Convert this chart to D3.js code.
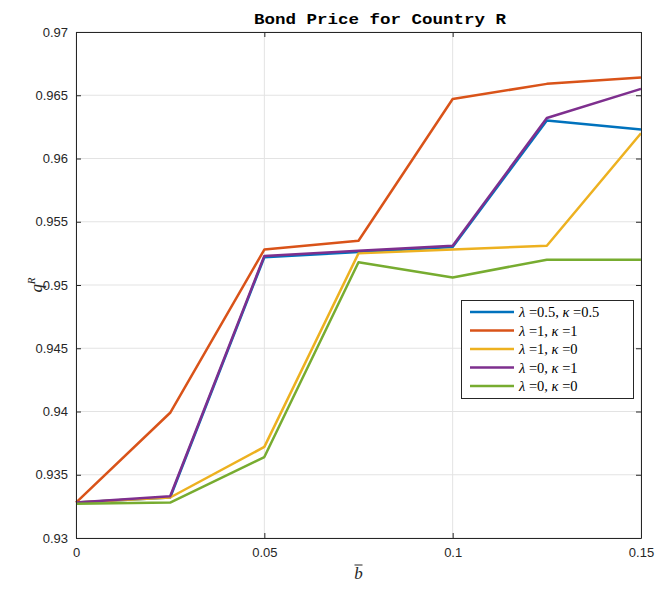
<!DOCTYPE html>
<html><head><meta charset="utf-8">
<script src="https://cdn.jsdelivr.net/npm/d3@7"></script>
<style>body{margin:0;background:#fff;} svg{display:block;}</style>
</head><body>
<svg id="c" width="663" height="592"></svg>
<script>
const xValues = [0, 0.025, 0.05, 0.075, 0.1, 0.125, 0.15];
const seriesNames = ["λ=0.5, κ=0.5", "λ=1, κ=1", "λ=1, κ=0", "λ=0, κ=1", "λ=0, κ=0"];
const legendParts = [["0.5","0.5"],["1","1"],["1","0"],["0","1"],["0","0"]];
const blue   = [0.9328, 0.9332, 0.9522, 0.9526, 0.9530, 0.9630, 0.9623];
const orange = [0.9328, 0.9399, 0.9528, 0.9535, 0.9647, 0.9659, 0.9664];
const yellow = [0.9328, 0.9332, 0.9372, 0.9525, 0.9528, 0.9531, 0.9620];
const purple = [0.9328, 0.9333, 0.9523, 0.9527, 0.9531, 0.9632, 0.9655];
const green  = [0.9327, 0.9328, 0.9364, 0.9518, 0.9506, 0.9520, 0.9520];
const colors = ["#0072BD", "#D95319", "#EDB120", "#7E2F8E", "#77AC30"];
const xTicks = [0, 0.05, 0.1, 0.15];
const xTickLabels = ["0", "0.05", "0.1", "0.15"];
const yTicks = [0.93, 0.935, 0.94, 0.945, 0.95, 0.955, 0.96, 0.965, 0.97];
const yTickLabels = ["0.93", "0.935", "0.94", "0.945", "0.95", "0.955", "0.96", "0.965", "0.97"];
const series = [blue, orange, yellow, purple, green];

const svg = d3.select("#c");
const L = 76, R = 641, T = 32, B = 538;
const x = d3.scaleLinear().domain([0, 0.15]).range([L, R]);
const y = d3.scaleLinear().domain([0.93, 0.97]).range([B, T]);

// grid
const g = svg.append("g");
g.selectAll(".gx").data(xTicks).enter().append("line")
  .attr("x1", d => x(d)).attr("x2", d => x(d)).attr("y1", T).attr("y2", B)
  .attr("stroke", "#e3e3e3").attr("stroke-width", 1);
g.selectAll(".gy").data(yTicks).enter().append("line")
  .attr("y1", d => y(d)).attr("y2", d => y(d)).attr("x1", L).attr("x2", R)
  .attr("stroke", "#e3e3e3").attr("stroke-width", 1);

// lines
const line = d3.line().x((d, i) => x(xValues[i])).y(d => y(d));
series.forEach((s, i) => {
  svg.append("path").datum(s).attr("d", line).attr("fill", "none")
    .attr("stroke", colors[i]).attr("stroke-width", 2.5).attr("stroke-linejoin", "round");
});

// axes
const fontTick = "'Liberation Sans', Arial, sans-serif";
const xAxisB = d3.axisBottom(x).tickValues(xTicks).tickFormat((d, i) => xTickLabels[i]).tickSizeInner(-5).tickSizeOuter(0).tickPadding(10);
const xAxisT = d3.axisTop(x).tickValues(xTicks).tickFormat("").tickSizeInner(-5).tickSizeOuter(0);
const yAxisL = d3.axisLeft(y).tickValues(yTicks).tickFormat((d, i) => yTickLabels[i]).tickSizeInner(-5).tickSizeOuter(0).tickPadding(8);
const yAxisR = d3.axisRight(y).tickValues(yTicks).tickFormat("").tickSizeInner(-5).tickSizeOuter(0);
function style(sel) {
  sel.selectAll("path").attr("stroke", "#262626").attr("stroke-width", 1);
  sel.selectAll("line").attr("stroke", "#262626");
  sel.selectAll("text").attr("fill", "#262626").style("font-family", fontTick).style("font-size", "13px");
}
svg.append("g").attr("transform", `translate(0,${B})`).call(xAxisB).call(style);
svg.append("g").attr("transform", `translate(0,${T})`).call(xAxisT).call(style);
svg.append("g").attr("transform", `translate(${L},0)`).call(yAxisL).call(style);
svg.append("g").attr("transform", `translate(${R},0)`).call(yAxisR).call(style);

// title
svg.append("text").attr("x", 254).attr("y", 24)
  .attr("textLength", 252).attr("lengthAdjust", "spacingAndGlyphs")
  .style("font-family", "'Liberation Mono', 'DejaVu Sans Mono', monospace").style("font-weight", "bold")
  .style("font-size", "15.5px").attr("fill", "#000").text("Bond Price for Country R");

// axis labels
const serif = "'Liberation Serif', 'DejaVu Serif', serif";
svg.append("text").attr("x", (L + R) / 2).attr("y", 579).attr("text-anchor", "middle")
  .style("font-family", serif).style("font-style", "italic").style("font-size", "17px").attr("fill", "#262626").text("b");
svg.append("line").attr("x1", (L + R) / 2 - 4).attr("x2", (L + R) / 2 + 4).attr("y1", 565).attr("y2", 565)
  .attr("stroke", "#262626").attr("stroke-width", 1);
const yl = svg.append("text").attr("transform", `translate(42,${(T + B) / 2}) rotate(-90)`).attr("text-anchor", "middle")
  .style("font-family", serif).style("font-size", "17px").attr("fill", "#262626");
yl.append("tspan").style("font-style", "italic").text("q");
yl.append("tspan").attr("dy", -7).style("font-style", "italic").style("font-size", "11px").text("R");

// legend
const lg = svg.append("g");
lg.append("rect").attr("x", 461.5).attr("y", 300.5).attr("width", 172).attr("height", 98)
  .attr("fill", "#fff").attr("stroke", "#262626").attr("stroke-width", 1);
legendParts.forEach((p, i) => {
  const yy = 312 + i * 18.5;
  lg.append("line").attr("x1", 470).attr("x2", 514).attr("y1", yy).attr("y2", yy)
    .attr("stroke", colors[i]).attr("stroke-width", 2.5);
  const t = lg.append("text").attr("x", 519).attr("y", yy + 5)
    .style("font-family", serif).style("font-size", "14.5px").attr("fill", "#000");
  t.append("tspan").style("font-style", "italic").text("λ");
  t.append("tspan").text(" =" + p[0] + ", ");
  t.append("tspan").style("font-style", "italic").text("κ");
  t.append("tspan").text(" =" + p[1]);
});
</script>
</body></html>
